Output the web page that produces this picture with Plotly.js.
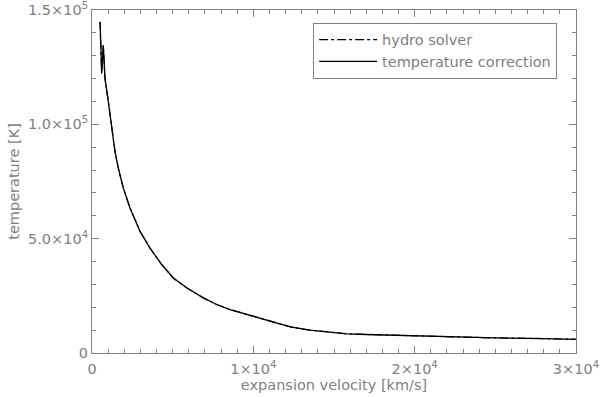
<!DOCTYPE html>
<html>
<head>
<meta charset="utf-8">
<script src="https://cdn.plot.ly/plotly-3.0.1.min.js"></script>
<style>
  html, body { margin: 0; padding: 0; background: #fff; }
  #chart { width: 600px; height: 397px; }
</style>
</head>
<body>
<div id="chart"></div>
<script>
// expansion velocity [km/s]
const velocity = [500, 600, 700, 806, 1012, 1219, 1426, 1632, 1942, 2355, 2975, 3595, 4318,
    5040, 5867, 6900, 7727, 8553, 9793, 11033, 12300, 13500, 14500, 15800, 17000, 19090,
    22190, 25000, 28000, 30000];

// temperature [K]
const hydroSolver = [144800, 122200, 134600, 120000, 109900, 98200, 88100, 80800, 72100, 63400,
    53200, 45900, 38700, 32800, 28500, 24100, 21200, 19000, 16500, 14000, 11400, 10000, 9200,
    8400, 8100, 7700, 7000, 6600, 6300, 6000];
const tempCorrection = [144800, 122200, 134600, 120000, 109900, 98200, 88100, 80800, 72100, 63400,
    53200, 45900, 38700, 32800, 28500, 24100, 21200, 19000, 16500, 14000, 11400, 10000, 9200,
    8400, 8100, 7700, 7000, 6600, 6300, 6000];

const xTickVals = [0, 10000, 20000, 30000];
const xTickText = ['0', '1×10<sup>4</sup>', '2×10<sup>4</sup>', '3×10<sup>4</sup>'];
const yTickVals = [0, 50000, 100000, 150000];
const yTickText = ['0', '5.0×10<sup>4</sup>', '1.0×10<sup>5</sup>', '1.5×10<sup>5</sup>'];

const grey = '#808080';
const tickFont = { family: 'DejaVu Sans', size: 14.5, color: grey };
const titleFont = { family: 'DejaVu Sans', size: 14.5, color: grey };

const data = [
    {
        x: velocity,
        y: hydroSolver,
        name: 'hydro solver',
        type: 'scatter',
        mode: 'lines',
        line: { color: '#000', width: 1.2, dash: 'dashdot' }
    },
    {
        x: velocity,
        y: tempCorrection,
        name: 'temperature correction',
        type: 'scatter',
        mode: 'lines',
        line: { color: '#000', width: 1.3 }
    }
];

const layout = {
    width: 600,
    height: 397,
    margin: { l: 92, r: 24, t: 10, b: 44 },
    paper_bgcolor: '#fff',
    plot_bgcolor: '#fff',
    font: tickFont,
    showlegend: true,
    legend: {
        x: 0.961, y: 0.963, xanchor: 'right', yanchor: 'top',
        bordercolor: grey, borderwidth: 1, bgcolor: '#fff',
        font: { family: 'DejaVu Sans', size: 14.5, color: grey },
        itemwidth: 58,
        tracegroupgap: 0
    },
    xaxis: {
        range: [0, 30000],
        tickvals: xTickVals,
        ticktext: xTickText,
        tickfont: tickFont,
        ticklabeloverflow: 'allow',
        ticklabelstandoff: 3,
        ticks: 'inside', ticklen: 7, tickcolor: grey,
        minor: { ticks: 'inside', dtick: 1000, ticklen: 4, tickcolor: grey },
        showline: true, linecolor: grey, linewidth: 1, mirror: 'allticks',
        showgrid: false, zeroline: false,
        title: { text: 'expansion velocity [km/s]', font: titleFont, standoff: 0 }
    },
    yaxis: {
        range: [0, 150000],
        tickvals: yTickVals,
        ticktext: yTickText,
        tickfont: tickFont,
        ticklabeloverflow: 'allow',
        ticks: 'inside', ticklen: 7, tickcolor: grey,
        minor: { ticks: 'inside', dtick: 10000, ticklen: 4, tickcolor: grey },
        showline: true, linecolor: grey, linewidth: 1, mirror: 'allticks',
        showgrid: false, zeroline: false,
        title: { text: 'temperature [K]', font: titleFont, standoff: 4 }
    }
};

Plotly.newPlot('chart', data, layout, { displayModeBar: false, staticPlot: true });
</script>
</body>
</html>
